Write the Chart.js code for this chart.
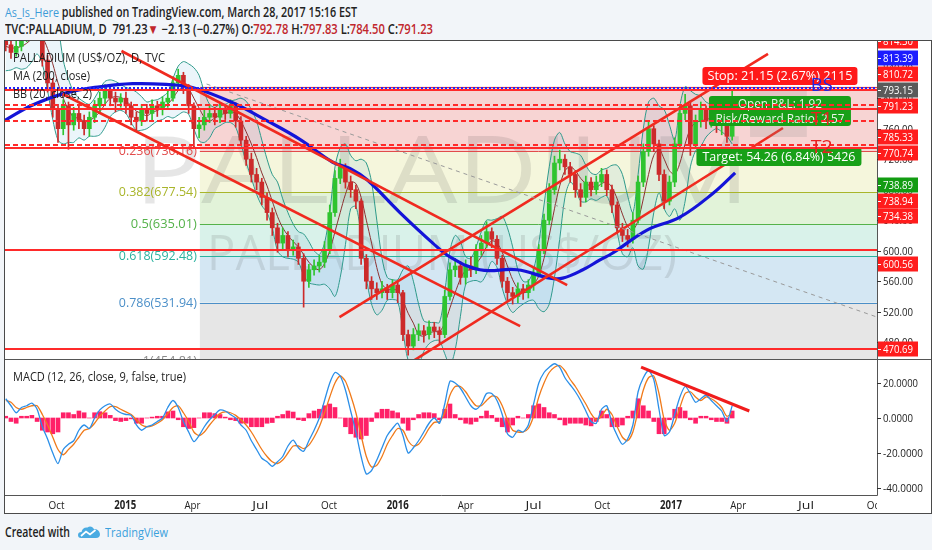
<!DOCTYPE html>
<html>
<head>
<meta charset="utf-8">
<script src="https://cdn.jsdelivr.net/npm/chart.js@4.4.1/dist/chart.umd.min.js"></script>
<style>
  body { margin: 0; width: 932px; height: 550px; overflow: hidden; position: relative; background: #f2f5f9; font-family: "Open Sans", sans-serif; }
  .t { position: absolute; white-space: nowrap; transform-origin: 0 50%; height: 18px; line-height: 18px; }
  canvas { position: absolute; }
</style>
</head>
<body>
<div id="h1" class="t" style="left:5px;top:3px;font-size:13.5px;font-weight:600;color:#222"><span style="color:#3d9bd8;font-weight:400">As_Is_Here</span> published on TradingView.com, March 28, 2017 15:16 EST</div>
<div id="h2" class="t" style="left:5px;top:20px;font-size:13.5px;font-weight:600;color:#222">TVC:PALLADIUM, D&nbsp; 791.23<span style="color:#c1272d">▼</span> −2.13 (−0.27%) O:<span style="color:#c1272d">792.78</span> H:<span style="color:#c1272d">797.83</span> L:<span style="color:#c1272d">784.50</span> C:<span style="color:#c1272d">791.23</span></div>

<div style="position:absolute;left:5px;top:41px;width:926px;height:472px;background:#fff"></div>
<canvas id="main" width="926" height="318" style="left:5px;top:41px"></canvas>
<canvas id="macd" width="926" height="153" style="left:5px;top:360px"></canvas>
<div style="position:absolute;left:5px;top:359px;width:926px;height:1px;background:#555"></div>
<div style="position:absolute;left:4px;top:40px;width:928px;height:474px;box-sizing:border-box;border:1.5px solid #4a4a4a"></div>

<div id="f1" class="t" style="left:5px;top:523px;font-size:13.5px;font-weight:600;color:#1d1d1d">Created with</div>
<svg style="position:absolute;left:78px;top:525px" width="22" height="14" viewBox="0 0 22 14">
  <path d="M3 13 Q0 13 0 10 Q0 7 3.5 7 Q4.5 2 9.5 2.5 Q13 0 16 4 Q21 4 22 9 Q22 13 18 13 Z" fill="#4aabe2"/>
  <path d="M3 11 L8 6.5 L12 9.5 L17.5 5" stroke="#fff" stroke-width="1.7" fill="none"/>
</svg>
<div id="f2" class="t" style="left:105px;top:523px;font-size:13.5px;color:#3aa0dc">TradingView</div>

<script>
// ---- time axis ----
const D0 = Date.parse('2014-10-01');
const day = s => (Date.parse(s) - D0) / 864e5;
const xMin = '2014-07-24', xMax = '2017-10-04';
const weekStart = '2014-07-25';

// ---- weekly candles ----
const opens = [875,870,860,868,880,890,895,890,850,820, 785,760,790,765,780,770,760,775,790,800,
  810,800,795,800,790,775,770,785,780,790, 785,795,800,820,830,815,790,760,765,775,
  780,775,785,780,790,770,745,720,700,690, 670,650,630,610,620,600,605,590,560,575,
  580,585,600,650,695,710,690,680,665,590, 560,550,545,550,545,555,545,490,475,490,
  495,490,500,495,490,540,575,580,565,580, 575,600,610,625,615,590,560,545,540,550,
  545,555,570,600,640,680,715,720,710,700, 680,670,690,680,690,700,680,660,630,620,
  615,640,690,730,760,740,700,665,690,740, 780,790,740,770,785,770,780,765,770,750];
const highs = [888,878,875,888,898,905,902,893,856,826, 792,798,795,788,790,778,782,797,808,818,
  816,808,806,808,795,782,792,792,798,796, 802,810,828,838,834,818,794,775,785,792,
  788,794,792,798,794,776,750,728,708,695, 676,656,636,630,625,614,610,596,582,588,
  594,612,660,705,720,714,698,686,668,595, 566,558,560,556,562,560,548,496,498,504,
  502,508,506,500,548,584,590,586,588,592, 608,620,638,630,620,594,565,552,558,556,
  562,578,608,648,688,724,732,726,716,705, 688,698,696,698,708,706,686,664,636,628,
  650,698,740,770,764,745,706,698,748,790, 805,796,778,795,790,790,786,778,774,811];
const lows = [862,852,855,862,874,884,880,842,808,775, 742,752,733,758,760,752,750,768,782,792,
  790,782,788,780,765,758,764,770,772,776, 778,788,796,812,806,780,735,748,758,768,
  765,768,772,774,762,738,712,690,680,660, 640,620,598,602,592,594,582,526,552,568,
  572,578,596,645,688,682,670,655,582,550, 536,536,538,536,538,532,482,463,470,482,
  480,484,486,478,486,535,566,556,556,566, 570,594,604,604,582,552,535,530,532,536,
  538,548,566,596,634,674,706,700,690,670, 658,664,672,674,684,672,650,622,612,605,
  610,636,684,724,730,692,655,660,684,734, 772,725,734,762,760,762,755,752,742,745];
const closes = [870,860,868,880,890,895,890,850,820,785, 760,790,765,780,770,760,775,790,800,810,
  800,795,800,790,775,770,785,780,790,785, 795,800,820,830,815,790,760,765,775,780,
  775,785,780,790,770,745,720,700,690,670, 650,630,610,620,600,605,590,560,575,580,
  585,600,650,695,710,690,680,665,590,560, 550,545,550,545,555,545,490,475,490,495,
  490,500,495,490,540,575,580,565,580,575, 600,610,625,615,590,560,545,540,550,545,
  555,570,600,640,680,715,720,710,700,680, 670,690,680,690,700,680,660,630,620,615,
  640,690,730,760,740,700,665,690,740,780, 790,740,770,785,770,780,765,770,750,791.23];

// ---- Bollinger Bands (20, close, 2), weekly readings ----
const bbUpper = [900,895,892,898,905,908,910,915,920,918, 895,850,825,808,800,795,792,800,812,822,
  824,822,818,814,812,808,802,795,797,798, 802,808,826,842,848,845,840,830,808,792,
  788,792,792,796,798,800,796,785,770,745, 720,700,690,668,650,635,625,622,612,600,
  595,610,650,710,735,740,725,718,720,715, 690,640,590,565,562,562,575,580,560,530,
  508,506,506,506,545,600,620,612,592,590, 605,625,640,640,642,645,630,605,575,560,
  560,575,610,660,710,745,755,740,730,728, 725,712,702,700,706,708,712,712,700,672,
  650,700,760,795,800,790,785,765,745,790, 815,810,805,803,795,792,792,788,786,800];
const bbBasis = [868,866,866,868,872,878,884,880,865,845, 820,800,785,775,774,770,771,775,782,792,
  800,802,801,797,790,783,780,777,781,784, 787,792,800,810,815,812,800,787,775,770,
  774,778,780,782,780,770,756,740,722,702, 685,665,645,630,620,612,605,595,585,578,
  575,583,600,625,650,674,690,688,670,640, 610,578,556,550,549,548,535,518,505,490,
  488,492,494,494,505,525,545,563,574,575, 583,592,605,613,610,598,580,562,550,545,
  547,555,567,590,620,655,685,705,710,705, 695,688,685,683,688,690,683,668,648,632,
  627,640,668,700,725,733,720,705,700,715, 740,760,768,770,772,774,776,772,768,770];
const bbLower = [836,837,840,838,840,848,858,845,810,772, 745,740,742,742,748,745,750,750,752,762,
  776,782,784,780,768,758,758,760,765,770, 772,776,774,778,782,779,760,744,742,748,
  760,764,768,768,762,740,716,695,674,659, 650,630,600,592,590,589,585,568,558,556,
  555,556,550,540,565,608,655,658,620,565, 530,516,522,535,536,534,495,456,450,450,
  468,478,482,482,465,450,470,514,556,560, 561,559,570,586,578,551,530,519,525,530,
  534,535,524,520,530,565,615,670,690,682, 665,664,668,666,670,672,654,624,596,592,
  604,580,576,605,650,676,655,645,655,640, 665,710,731,737,749,756,760,756,750,740];

// ---- MA (200, close) ----
const maDates = ['2014-07-24','2014-08-30','2014-10-14','2014-11-28','2015-01-11','2015-02-25','2015-04-01',
  '2015-05-25','2015-07-09','2015-08-23','2015-10-06','2015-10-29','2015-11-21','2016-01-04','2016-02-17',
  '2016-03-11','2016-04-20','2016-06-09','2016-07-23','2016-08-09','2016-09-05','2016-09-28','2016-10-15',
  '2016-11-30','2017-01-13','2017-02-26','2017-03-28'];
const maValues = [771,791,807,815,819,818,814, 794,771,746,716,708,693,650,610,
  592,575,575,564,564,575,588,597, 627,644,675,702];

// ---- MACD (12, 26, close, 9) ----
const macdLine = [11,7,3,6,7,8.5,5,-5,-12,-20, -26,-18,-15,-13,-7,-4,-6,0,4.6,7,
  8,5,3,2,1.5,-4,-7,-5,-4,-2, 0,6,10,6,-2,-8,-13.5,-10,-5,-1,
  2,4.6,4,2,0,-4,-7,-13,-18,-23, -25,-27.6,-25,-22,-16,-12.6,-17,-19,-13,-7,
  0,10,20,26,24,16,4,-8,-22,-32, -30,-24,-17,-10,-6,-3,-10,-20,-17,-13,
  -8,-3,0,-3,8,21,20,17,12,7, 5,8,14,14,10,2,-9,-11,-7,-8,
  -4,8,20,26,29,31,29,23,19,15, 10,4,-2,-3,5,7,-3,-10,-15,-12,
  -4,15,23,27,22,5,-10,-8,2,12, 18,14,9,11,13,10,7,4,-2,7];
const signalLine = [10,9,6,5,6,7,7,2,-4,-11, -18,-21,-18,-15,-11,-7,-6,-3,1,4,
  6.5,6.5,5,3.5,2,-1,-4,-5,-4.5,-3, -1,2.5,6,7,3,-2,-8,-10,-8,-4,
  -0.5,2.5,3.5,3,1.5,-1,-4,-8,-13,-18, -22,-25,-26,-24,-20,-16,-16,-17.5,-15.5,-11,
  -5,3,12,20,24,21,13,3,-10,-22, -28,-27,-22,-15,-10,-6,-7,-13,-16,-15,
  -11,-6,-2.5,-2,3,13,18,18,15,10.5, 7,7,10,12.5,12,7,-1,-7,-8,-8,
  -6,1,12,20,26,29,30,27,22,18, 13,8,2.5,-1,1,5,2,-5,-11,-13,
  -8,4,16,23,24,14,-1,-7,-3,6, 14,15,12,10,12,11,9,6,1,3];
const macdHist = [1,-2,-3,1,1,1.5,-2,-7,-8,-9, -8,3,3,2,4,3,0,3,3.6,3,
  1.5,-1.5,-2,-1.5,-0.5,-3,-3,0,0.5,1, 1,3.5,4,-1,-5,-6,-5.5,0,3,3,
  2.5,2,0.5,-1,-1.5,-3,-3,-5,-5,-5, -3,-2.6,1,2,4,3.4,-1,-1.5,2.5,4,
  5,7,8,6,0,-5,-9,-11,-12,-10, -2,3,5,5,4,3,-3,-7,-1,2,
  3,3,2.5,-1,5,8,2,-1,-3,-3.5, -2,1,4,1.5,-2,-5,-8,-4,1,0,
  2,7,8,6,3,2,-1,-4,-3,-3, -3,-4,-4.5,-2,4,2,-5,-5,-4,1,
  4,11,7,4,-2,-9,-9,-1,5,6, 4,-1,-3,1,1,-1,-2,-2,-3,4];

// ---- drawings ----
const fibStart = '2015-04-11';
const fibRatios = [0, 0.236, 0.382, 0.5, 0.618, 0.786, 1];
const fibPrices = [815.20, 730.16, 677.54, 635.01, 592.48, 531.94, 454.81];
const fibColors = ['#e53935', '#e24b4b', '#a9b52a', '#55b24a', '#2bb3a0', '#4b8fc8', '#8a8a8a'];
const fibFills = ['#f7d4d3', '#f5f6dc', '#e2f3d9', '#d9f2ea', '#d4e7f3', '#e6e6e6'];

const levelPrices = [813.39, 810.72, 791.23, 785.33, 770.74, 738.94, 734.38, 600.56, 470.69];
const levelStyles = ['dot', 'solid', 'dash', 'solid', 'dash', 'dash', 'solid', 'solid', 'solid'];

const trendLines = [
  ['2014-12-27', 861.9, '2016-08-15', 555.0],
  ['2014-10-09', 805.5, '2016-06-13', 501.2],
  ['2015-10-15', 513.0, '2017-05-11', 858.0],
  ['2016-01-14', 450.7, '2017-05-31', 760.9]
];
const dashedLine = ['2015-04-20', 818.6, '2017-10-04', 513.0];
const macdTrend = ['2016-11-22', 29.1, '2017-04-16', 4.0];
const posRect = ['2017-04-17', 749.1, '2017-07-02', 810.8];
const boxDate = '2017-05-27';
const boxTexts = ['Stop: 21.15 (2.67%) 2115', 'Open P&L: 1.92', 'Risk/Reward Ratio: 2.57', 'Target: 54.26 (6.84%) 5426'];
const boxPrices = [829.1, 783.2, 723.5];
const markDate = '2017-07-22';
const markTexts = ['BS', 'T1', 'T2'];
const markPrices = [816, 771.4, 734.7];

// ---- axis labels ----
const priceTicks = [480, 520, 560, 600, 640, 680, 720, 760, 800, 840];
const macdTicks = [20, 0, -20, -40];
const tickDates = ['2014-10-01','2015-01-01','2015-04-01','2015-07-01','2015-10-01','2016-01-01','2016-04-01',
  '2016-07-01','2016-10-01','2017-01-01','2017-04-01','2017-07-01','2017-10-01'];
const tickLabels = ['Oct','2015','Apr','Jul','Oct','2016','Apr','Jul','Oct','2017','Apr','Jul','Oct'];
const axisTexts = ['814.30','813.39','810.72','793.15','791.23','785.33','770.74','738.89','738.94','734.38','600.56','470.69'];
const axisColors = ['#ff1c1c','#1c1cff','#ff1c1c','#5a5a5a','#ff1c1c','#ff1c1c','#ff1c1c','#129c12','#ff1c1c','#ff1c1c','#ff1c1c','#ff1c1c'];
const axisSlots = [41, 58, 74, 90, 106, 137, 153, 185, 201, 216, 264, 349];

// ---- helpers ----
const MAIN_TOP = 41, MAIN_LEFT = 5;
const t0 = day(weekStart);
const weekX = closes.map((_, i) => t0 + 7 * i);

function fitText(ctx, text, x, y, w, align) {
  ctx.save();
  ctx.textAlign = align || 'left';
  const m = ctx.measureText(text).width;
  ctx.translate(x, y);
  ctx.scale(w / m, 1);
  ctx.fillText(text, 0, 0);
  ctx.restore();
}
function rbox(ctx, cx, cy, w, h, fill) {
  ctx.fillStyle = fill;
  ctx.beginPath();
  ctx.roundRect(cx - w / 2, cy - h / 2, w, h, 3);
  ctx.fill();
}
function clipArea(ctx, a) {
  ctx.beginPath();
  ctx.rect(a.left, a.top, a.right - a.left, a.bottom - a.top);
  ctx.clip();
}

const candleColors = closes.map((c, i) => c >= opens[i] ? '#2fc42f' : '#cc2a2a');

const mainDeco = {
  id: 'mainDeco',
  beforeDatasetsDraw(chart) {
    const { ctx, chartArea: a, scales: { x, y } } = chart;
    ctx.save();
    clipArea(ctx, a);
    const fx = x.getPixelForValue(day(fibStart));
    for (let i = 0; i < fibFills.length; i++) {
      const y1 = y.getPixelForValue(fibPrices[i]), y2 = y.getPixelForValue(fibPrices[i + 1]);
      ctx.fillStyle = fibFills[i];
      ctx.fillRect(fx, y1, a.right - fx, y2 - y1);
    }
    ctx.fillStyle = 'rgba(60,60,60,0.13)';
    ctx.textBaseline = 'middle';
    ctx.font = '93px "Open Sans"';
    fitText(ctx, 'PALLADIUM', 442 - MAIN_LEFT, 176 - MAIN_TOP, 615, 'center');
    ctx.font = '50px "Open Sans"';
    fitText(ctx, 'PALLADIUM (US$/OZ)', 442 - MAIN_LEFT, 256 - MAIN_TOP, 470, 'center');
    ctx.font = '13px "Open Sans"';
    fibPrices.forEach((p, i) => {
      const yy = Math.round(y.getPixelForValue(p)) + 0.5;
      ctx.strokeStyle = fibColors[i];
      ctx.lineWidth = 1;
      ctx.beginPath(); ctx.moveTo(fx, yy); ctx.lineTo(a.right, yy); ctx.stroke();
      if (i > 0) {
        const label = fibRatios[i] + '(' + p.toFixed(2) + ')';
        ctx.fillStyle = fibColors[i];
        fitText(ctx, label, fx - 3, yy, label.length * 6, 'right');
      }
    });
    ctx.restore();
  },
  afterDatasetsDraw(chart) {
    const { ctx, chartArea: a, scales: { x, y } } = chart;
    const X = d => x.getPixelForValue(day(d)), Y = p => y.getPixelForValue(p);
    ctx.save();
    clipArea(ctx, a);
    ctx.strokeStyle = '#f02a1f';
    ctx.lineWidth = 2.6;
    trendLines.forEach(t => {
      ctx.beginPath(); ctx.moveTo(X(t[0]), Y(t[1])); ctx.lineTo(X(t[2]), Y(t[3])); ctx.stroke();
    });
    ctx.strokeStyle = '#9a9a9a';
    ctx.lineWidth = 1;
    ctx.setLineDash([4, 4]);
    ctx.beginPath(); ctx.moveTo(X(dashedLine[0]), Y(dashedLine[1])); ctx.lineTo(X(dashedLine[2]), Y(dashedLine[3])); ctx.stroke();
    ctx.setLineDash([]);
    ctx.fillStyle = 'rgba(140,140,140,0.2)';
    ctx.fillRect(X(posRect[0]), Y(posRect[3]), X(posRect[2]) - X(posRect[0]), Y(posRect[1]) - Y(posRect[3]));

    // position tool boxes
    const bx = X(boxDate);
    ctx.font = '13px "Open Sans"';
    ctx.textBaseline = 'middle';
    rbox(ctx, bx, Y(boxPrices[0]), 155, 18, '#ff1a1a');
    ctx.fillStyle = '#fff';
    fitText(ctx, boxTexts[0], bx, Y(boxPrices[0]) + 0.5, 145, 'center');
    rbox(ctx, bx, Y(boxPrices[1]), 142, 30, '#18a018');
    ctx.fillStyle = '#eaf6ea';
    fitText(ctx, boxTexts[1], bx, Y(boxPrices[1]) - 7, 84, 'center');
    fitText(ctx, boxTexts[2], bx, Y(boxPrices[1]) + 8, 129, 'center');
    rbox(ctx, bx - 1, Y(boxPrices[2]), 165, 19, '#18a018');
    ctx.fillStyle = '#fff';
    fitText(ctx, boxTexts[3], bx - 1, Y(boxPrices[2]) + 0.5, 153, 'center');

    // horizontal levels
    levelPrices.forEach((p, i) => {
      const yy = Math.round(Y(p));
      const s = levelStyles[i];
      ctx.lineWidth = 2;
      ctx.strokeStyle = s === 'dot' ? '#2424ff' : '#ff2a2a';
      ctx.setLineDash(s === 'dash' ? [5, 3] : s === 'dot' ? [2, 2] : []);
      ctx.beginPath(); ctx.moveTo(a.left, yy); ctx.lineTo(a.right, yy); ctx.stroke();
    });
    ctx.setLineDash([]);

    ctx.font = '19px "Open Sans"';
    markTexts.forEach((t, i) => {
      ctx.fillStyle = i === 0 ? '#2424e0' : '#e82020';
      fitText(ctx, t, X(markDate), Y(markPrices[i]), 22, 'center');
    });

    // legend
    ctx.fillStyle = '#1e1e1e';
    ctx.font = '13px "Open Sans"';
    fitText(ctx, 'PALLADIUM (US$/OZ), D, TVC', 13 - MAIN_LEFT, 58 - MAIN_TOP, 152);
    fitText(ctx, 'MA (200, close)', 13 - MAIN_LEFT, 76 - MAIN_TOP, 77);
    fitText(ctx, 'BB (20, close, 2)', 13 - MAIN_LEFT, 94 - MAIN_TOP, 79);
    ctx.restore();

    // price axis
    ctx.save();
    ctx.strokeStyle = '#555';
    ctx.lineWidth = 1;
    ctx.beginPath(); ctx.moveTo(a.right + 0.5, a.top); ctx.lineTo(a.right + 0.5, a.bottom); ctx.stroke();
    ctx.textBaseline = 'middle';
    ctx.font = '11.5px "Open Sans"';
    priceTicks.forEach(t => {
      const yy = Math.round(y.getPixelForValue(t)) + 0.5;
      ctx.strokeStyle = '#333';
      ctx.beginPath(); ctx.moveTo(a.right, yy); ctx.lineTo(a.right + 4, yy); ctx.stroke();
      ctx.fillStyle = '#222';
      fitText(ctx, t.toFixed(2), a.right + 6, yy, 30);
    });
    axisTexts.forEach((t, i) => {
      const cy = axisSlots[i] - MAIN_TOP;
      ctx.fillStyle = axisColors[i];
      ctx.fillRect(a.right + 1, cy - 7.5, 40, 15);
      ctx.strokeStyle = '#fff';
      ctx.beginPath(); ctx.moveTo(a.right + 1, cy + 0.5); ctx.lineTo(a.right + 4, cy + 0.5); ctx.stroke();
      ctx.fillStyle = '#fff';
      fitText(ctx, t, a.right + 6, cy + 0.5, 30);
    });
    ctx.restore();
  }
};

const macdDeco = {
  id: 'macdDeco',
  afterDatasetsDraw(chart) {
    const { ctx, chartArea: a, scales: { x, y } } = chart;
    const X = d => x.getPixelForValue(day(d));
    ctx.save();
    clipArea(ctx, a);
    ctx.strokeStyle = '#f01c1c';
    ctx.lineWidth = 3;
    ctx.beginPath();
    ctx.moveTo(X(macdTrend[0]), y.getPixelForValue(macdTrend[1]));
    ctx.lineTo(X(macdTrend[2]), y.getPixelForValue(macdTrend[3]));
    ctx.stroke();
    ctx.fillStyle = '#1e1e1e';
    ctx.font = '13px "Open Sans"';
    ctx.textBaseline = 'middle';
    fitText(ctx, 'MACD (12, 26, close, 9, false, true)', 13 - MAIN_LEFT, 17, 173);
    ctx.restore();

    ctx.save();
    ctx.strokeStyle = '#555';
    ctx.lineWidth = 1;
    ctx.beginPath();
    ctx.moveTo(a.right + 0.5, a.top); ctx.lineTo(a.right + 0.5, a.bottom + 0.5); ctx.lineTo(a.left, a.bottom + 0.5);
    ctx.stroke();
    ctx.textBaseline = 'middle';
    ctx.font = '11.5px "Open Sans"';
    macdTicks.forEach(t => {
      const yy = Math.round(y.getPixelForValue(t)) + 0.5;
      ctx.strokeStyle = '#333';
      ctx.beginPath(); ctx.moveTo(a.right, yy); ctx.lineTo(a.right + 4, yy); ctx.stroke();
      ctx.fillStyle = '#222';
      const s = t.toFixed(4);
      fitText(ctx, s, a.right + 6, yy, s.length * 5);
    });
    ctx.beginPath();
    ctx.rect(a.left, a.bottom, a.right - a.left, 20);
    ctx.clip();
    tickLabels.forEach((t, i) => {
      const px = X(tickDates[i]);
      const yr = /^\d+$/.test(t);
      ctx.font = (yr ? 'bold ' : '') + '11.5px "Open Sans"';
      ctx.fillStyle = '#222';
      fitText(ctx, t, px, a.bottom + 11, yr ? 22 : 16, 'center');
    });
    ctx.restore();
  }
};

const xScale = { type: 'linear', display: false, min: day(xMin), max: day(xMax), offset: false };

new Chart(document.getElementById('main'), {
  type: 'bar',
  data: {
    datasets: [
      { type: 'line', data: maDates.map((d, i) => ({ x: day(d), y: maValues[i] })), borderColor: '#1414d8',
        borderWidth: 3.2, pointRadius: 0, tension: 0.4, order: 0 },
      { type: 'bar', data: weekX.map((x, i) => ({ x, y: [opens[i], closes[i]] })), backgroundColor: candleColors,
        barThickness: 4, minBarLength: 1, grouped: false, order: 1 },
      { type: 'bar', data: weekX.map((x, i) => ({ x, y: [lows[i], highs[i]] })), backgroundColor: candleColors,
        barThickness: 1, grouped: false, order: 2 },
      { type: 'line', data: weekX.map((x, i) => ({ x, y: bbBasis[i] })), borderColor: '#8c3232',
        borderWidth: 1, pointRadius: 0, tension: 0.3, order: 3 },
      { type: 'line', data: weekX.map((x, i) => ({ x, y: bbUpper[i] })), borderColor: '#2e9a8a',
        borderWidth: 1, pointRadius: 0, tension: 0.3, fill: '+1', backgroundColor: 'rgba(100,175,215,0.13)', order: 4 },
      { type: 'line', data: weekX.map((x, i) => ({ x, y: bbLower[i] })), borderColor: '#2e9a8a',
        borderWidth: 1, pointRadius: 0, tension: 0.3, order: 5 }
    ]
  },
  options: {
    responsive: false,
    animation: false,
    layout: { padding: { right: 54 } },
    plugins: { legend: { display: false }, tooltip: { enabled: false } },
    scales: { x: xScale, y: { display: false, min: 458, max: 875 } }
  },
  plugins: [mainDeco]
});

new Chart(document.getElementById('macd'), {
  type: 'bar',
  data: {
    datasets: [
      { type: 'line', data: weekX.map((x, i) => ({ x, y: macdLine[i] })), borderColor: '#2b8fe8',
        borderWidth: 1.3, pointRadius: 0, tension: 0.25, order: 0 },
      { type: 'line', data: weekX.map((x, i) => ({ x, y: signalLine[i] })), borderColor: '#f07a1a',
        borderWidth: 1.3, pointRadius: 0, tension: 0.25, order: 1 },
      { type: 'bar', data: weekX.map((x, i) => ({ x, y: macdHist[i] })), backgroundColor: '#ff2068',
        barThickness: 4, order: 2 }
    ]
  },
  options: {
    responsive: false,
    animation: false,
    layout: { padding: { right: 54, bottom: 18 } },
    plugins: { legend: { display: false }, tooltip: { enabled: false } },
    scales: { x: xScale, y: { display: false, min: -44, max: 33.14 } }
  },
  plugins: [macdDeco]
});

// header / footer text widths
function fit(id, w) {
  const el = document.getElementById(id);
  const r = el.getBoundingClientRect().width;
  el.style.transform = 'scaleX(' + (w / r) + ')';
}
fit('h1', 352); fit('h2', 428); fit('f1', 65); fit('f2', 63);
</script>
</body>
</html>
